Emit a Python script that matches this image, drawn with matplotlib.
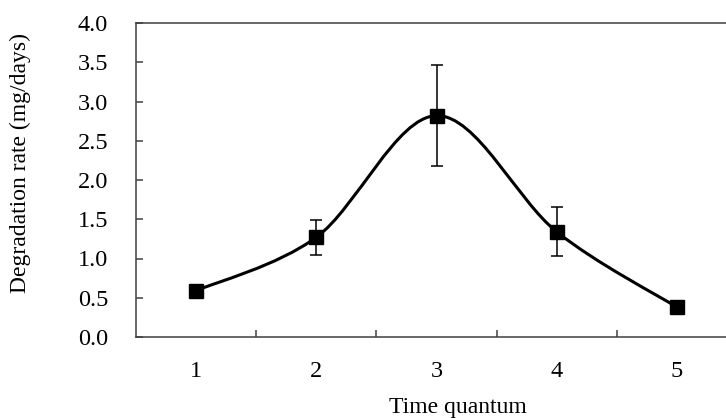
import numpy as np
import matplotlib
matplotlib.use('Agg')
import matplotlib.pyplot as plt
from matplotlib.path import Path
from matplotlib.patches import PathPatch

# 데이터
quantum = [1, 2, 3, 4, 5]
rate = [0.59, 1.27, 2.82, 1.34, 0.38]
err = [0.03, 0.22, 0.64, 0.31, 0.03]
y_ticks = [0.0, 0.5, 1.0, 1.5, 2.0, 2.5, 3.0, 3.5, 4.0]

plt.rcParams['font.family'] = ['Liberation Serif', 'DejaVu Serif']
W, H = 726, 418


def smooth_path(xs, ys):
    """Excel 스타일 부드러운 선 (Catmull-Rom -> Bezier)"""
    pts = np.column_stack([xs, ys]).astype(float)
    n = len(pts)
    verts = [pts[0]]
    codes = [Path.MOVETO]
    for i in range(n - 1):
        p0 = pts[i - 1] if i > 0 else pts[i]
        p1 = pts[i]
        p2 = pts[i + 1]
        p3 = pts[i + 2] if i + 2 < n else pts[i + 1]
        c1 = p1 + (p2 - p0) / 6
        c2 = p2 - (p3 - p1) / 6
        verts += [c1, c2, p2]
        codes += [Path.CURVE4] * 3
    return Path(verts, codes)


fig = plt.figure(figsize=(W / 100, H / 100), dpi=100)
ax = fig.add_axes([136 / W, 1 - 337 / H, (737 - 136) / W, (337 - 23) / H])

ax.add_patch(PathPatch(smooth_path(quantum, rate), fill=False, lw=2.2,
                       color='black', zorder=2, capstyle='round'))
ax.errorbar(quantum, rate, yerr=err, fmt='none', ecolor='black',
            elinewidth=1.1, capsize=4, capthick=1.1, zorder=3)
ax.plot(quantum, rate, 's', color='black', markersize=10.5, zorder=4)

ax.set_xlim(0.5, 5.5)
ax.set_ylim(0, 4.0)
ax.set_yticks(y_ticks)
ax.set_yticklabels([f'{v:.1f}' for v in y_ticks])
ax.set_xticks(quantum)
ax.set_xticks([1.5, 2.5, 3.5, 4.5], minor=True)

spine_c = '#404040'
for s in ['top', 'left', 'bottom']:
    ax.spines[s].set_color(spine_c)
    ax.spines[s].set_linewidth(1.1)
ax.spines['right'].set_visible(False)

ax.tick_params(axis='y', direction='in', length=5, width=1.1, color=spine_c,
               pad=20, labelsize=17.5)
ax.tick_params(axis='x', which='major', length=0, pad=17, labelsize=17.5)
ax.tick_params(axis='x', which='minor', direction='in', length=5, width=1.1,
               color=spine_c)

fig.text(20 / W, 1 - 163 / H, 'Degradation rate (mg/days)', rotation=90,
         ha='center', va='center', fontsize=17)
fig.text(458 / W, 1 - 407 / H, 'Time quantum', ha='center', va='center',
         fontsize=17)

fig.savefig('out.png', dpi=100)
